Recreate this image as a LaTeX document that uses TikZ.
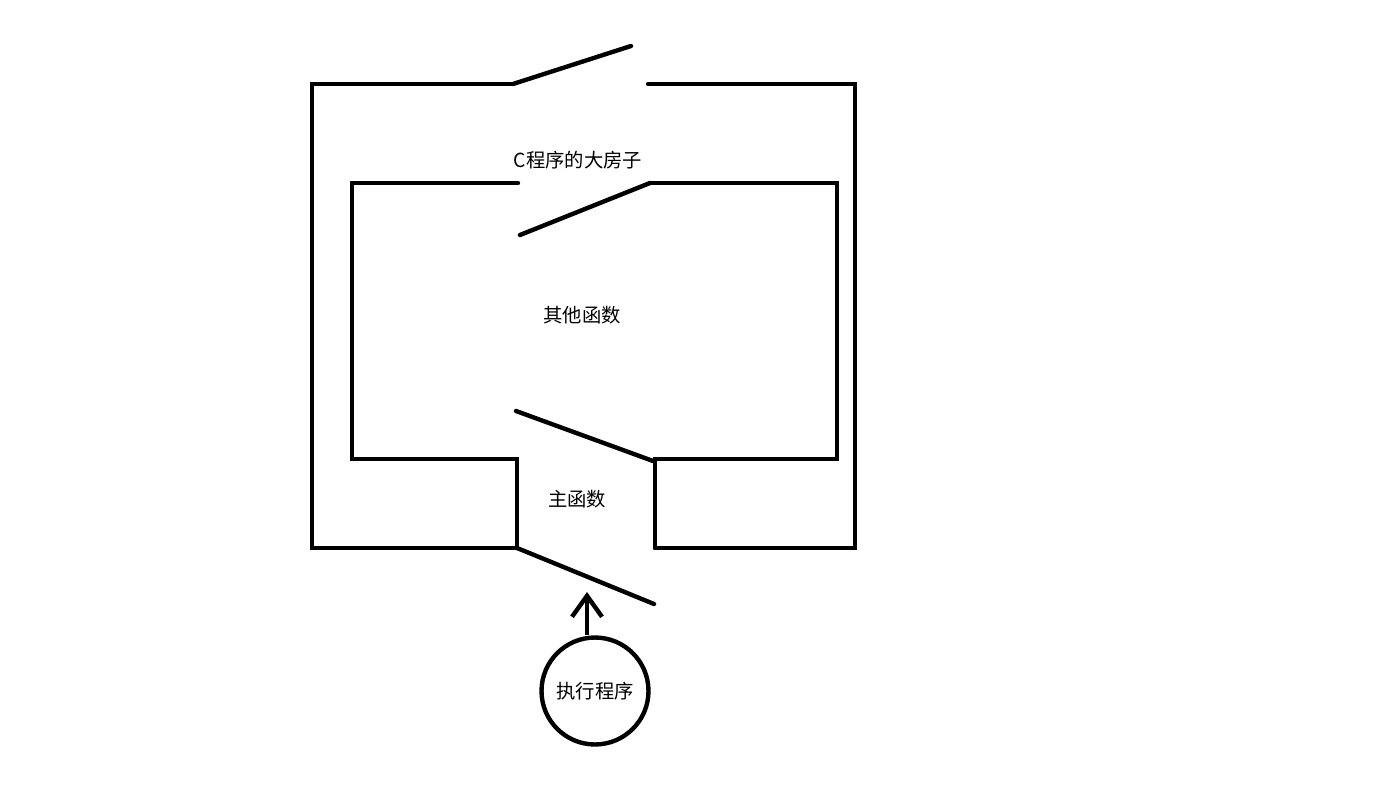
\documentclass[tikz,border=0pt]{standalone}
\usepackage{fontspec}
\setmainfont{Noto Sans CJK SC}
\usetikzlibrary{arrows.meta}
\usetikzlibrary{positioning}

\tikzset{
  wall/.style={line width=2.5pt, line cap=round, line join=miter},
  label/.style={font=\fontsize{11}{13}\selectfont, inner sep=0pt}
}

\begin{document}
\begin{tikzpicture}[x=0.02cm, y=-0.02cm]
        \useasboundingbox (0,0) rectangle (1400,787);

        % outer house
        \draw[wall] (513,84) -- (312,84) -- (312,548) -- (517,548);
        \draw[wall] (648,84) -- (855,84) -- (855,548) -- (655,548);
        \draw[wall] (513,84) -- (631,46);

        % inner room
        \draw[wall] (518,183) -- (352,183) -- (352,459) -- (517,459) -- (517,548);
        \draw[wall] (650,183) -- (837,183) -- (837,459) -- (655,459) -- (655,548);
        \draw[wall] (650,183) -- (520,235);
        \draw[wall] (516,411) -- (653,461);

        % entrance
        \draw[wall] (517,548) -- (654,604);

        \node[label] (house) at (578,160) {C程序的大房子};
        \node[label] (others) at (582,315) {其他函数};
        \node[label] (main) at (577,499) {主函数};

        \node[circle, draw, line width=2.5pt, minimum size=2.14cm, label] (exec) at (595,691) {执行程序};
        \coordinate (entry) at (587,592);
        \draw[line width=2.5pt, -{Straight Barb[length=0.42cm, width=0.6cm, line width=2.5pt]}] (exec.north -| entry) -- (entry);
      \end{tikzpicture}
\end{document}
